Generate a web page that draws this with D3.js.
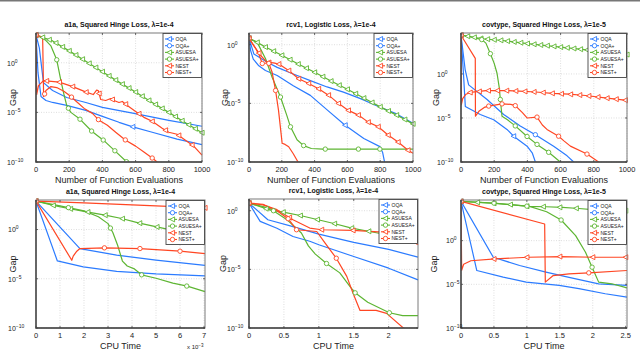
<!DOCTYPE html>
<html>
<head>
<meta charset="utf-8">
<script src="https://cdn.jsdelivr.net/npm/d3@7"></script>
<style>
body { margin: 0; background: #fff; }
text { font-family: "Liberation Sans", Arial, sans-serif; }
</style>
</head>
<body>
<svg width="640" height="350"></svg>
<script>
var methods = ["OQA", "OQA+", "ASUESA", "ASUESA+", "NEST", "NEST+"];
var colors = ["#2b7bff", "#2b7bff", "#5db532", "#5db532", "#ff4623", "#ff4623"];
var shapes = ["tri", "circ", "tri", "circ", "tri", "circ"];

// [x, log10(gap)]
// a1a, function evaluations
var evA1aOQA = [[0,2.8],[12,-1],[30,-3.4],[60,-3.8],[100,-4.0],[185,-4.3],[300,-4.8],[400,-5.4],[500,-6.0],[583,-6.46],[700,-7.0],[850,-7.7],[1000,-8.25]];
var evA1aOQAp = [[0,2.8],[20,1.5],[45,-2.0],[100,-2.8],[185,-3.5],[300,-4.0],[400,-4.5],[590,-5.1],[800,-5.8],[1000,-6.4]];
var evA1aASU = [[0,2.8],[100,2.2],[200,1.2],[300,0.15],[400,-0.9],[500,-1.95],[600,-2.95],[700,-4.0],[800,-5.0],[900,-6.05],[1000,-7.05]];
var evA1aASUp = [[0,2.8],[50,2.4],[90,1.7],[125,0.3],[150,-1.8],[170,-3.3],[185,-4.3],[210,-5.0],[266,-5.7],[336,-6.9],[406,-7.8],[477,-8.9],[547,-10]];
var evA1aNEST = [[0,2.8],[4,-3.2],[15,-2.3],[45,-1.8],[140,-1.95],[221,-2.4],[302,-2.96],[345,-3.2],[365,-2.75],[375,-2.8],[390,-3.7],[420,-3.8],[450,-3.6],[470,-3.8],[500,-4.0],[520,-3.9],[550,-4.3],[600,-4.9],[650,-5.5],[700,-5.9],[760,-6.6],[800,-7.0],[850,-7.2],[900,-7.8],[950,-8.4],[1000,-9.3]];
var evA1aNESTp = [[0,2.8],[40,2.6],[46,-3.4],[60,-2.8],[90,-2.4],[125,-2.5],[170,-2.9],[210,-3.4],[250,-4.0],[290,-4.6],[340,-5.1],[380,-5.8],[430,-6.3],[480,-7.0],[540,-7.8],[600,-8.4],[650,-9.0],[700,-9.6],[730,-10]];

// rcv1, function evaluations
var evRcvOQA = [[0,0.55],[10,-0.5],[26,-1.23],[60,-1.8],[100,-2.2],[172,-2.63],[270,-3.5],[374,-4.32],[480,-5.6],[586,-6.86],[700,-8.0],[798,-8.69],[815,-9.2],[828,-10.1]];
var evRcvOQAp = [[0,0.55],[30,-0.8],[111,-1.5],[172,-1.93],[270,-2.5],[374,-3.06],[476,-3.6],[576,-4.04],[680,-4.6],[778,-5.2],[900,-5.9],[1000,-6.7]];
var evRcvASU = [[0,0.55],[50,0.2],[100,-0.2],[200,-0.9],[300,-1.65],[400,-2.35],[500,-3.1],[600,-3.8],[700,-4.55],[800,-5.3],[900,-6.0],[1000,-6.75]];
var evRcvASUp = [[0,0.55],[50,0.2],[101,-1.2],[141,-2.77],[192,-4.46],[230,-6.0],[253,-7.0],[293,-8.1],[333,-8.6],[380,-8.85],[450,-8.9],[1000,-8.9]];
var evRcvNEST = [[0,0.55],[30,-0.1],[70,-0.9],[110,-1.5],[150,-1.55],[182,-1.65],[242,-2.2],[303,-2.9],[364,-3.3],[424,-3.76],[485,-4.3],[545,-5.0],[606,-5.6],[667,-6.0],[727,-6.6],[788,-7.0],[848,-7.7],[909,-8.3],[970,-9.0],[1000,-9.25]];
var evRcvNESTp = [[0,0.55],[40,-0.3],[60,-0.8],[81,-1.6],[120,-1.55],[140,-2.3],[162,-3.9],[180,-5.6],[195,-7.5],[202,-8.4],[220,-8.5],[242,-8.7],[270,-9.3],[303,-10.1]];

// covtype, function evaluations
var evCovOQA = [[0,4.4],[15,0],[26,-3.7],[116,-4.6],[197,-5.2],[277,-6.3],[317,-7.07],[398,-8.2],[430,-9.0],[448,-10]];
var evCovOQAp = [[0,4.4],[25,0.5],[46,-1.24],[157,-2.9],[257,-4.6],[357,-5.9],[448,-6.9],[558,-8.2],[639,-9.3],[679,-10]];
var evCovASU = [[0,4.4],[50,4.25],[130,4.0],[250,3.8],[400,3.45],[600,3.05],[800,2.65],[960,2.3],[1000,2.2]];
var evCovASUp = [[0,4.4],[60,4.2],[125,3.9],[150,3.5],[177,2.3],[200,1.2],[217,0.08],[230,-1.5],[237,-2.9],[247,-4.8],[280,-5.2],[327,-5.9],[398,-7.1],[458,-8.0],[528,-8.9],[598,-10]];
var evCovNEST = [[0,4.4],[2,-3.5],[10,-2.8],[30,-2.3],[56,-2.1],[150,-1.9],[250,-1.88],[350,-1.95],[450,-2.05],[550,-2.2],[650,-2.3],[750,-2.45],[880,-2.75],[1000,-3.0]];
var evCovNESTp = [[0,4.4],[86,1.77],[87,-4.8],[110,-4.2],[140,-3.8],[167,-3.65],[247,-3.4],[300,-3.45],[327,-3.6],[370,-4.4],[398,-5.0],[458,-4.9],[490,-5.8],[518,-6.3],[588,-7.07],[620,-7.6],[659,-8.2],[759,-9.1],[829,-10]];

// a1a, CPU time (x in units of 1e-3)
var cpA1aOQA = [[0,2.88],[0.89,-3.19],[1.97,-3.8],[3.36,-4.24],[5.0,-4.5],[7.04,-4.71]];
var cpA1aOQAp = [[0,2.88],[1.83,-1.93],[3.36,-2.6],[5.0,-3.1],[7.04,-3.63]];
var cpA1aASU = [[0,2.88],[0.72,2.45],[1.35,2.14],[2.11,1.8],[2.88,1.46],[3.57,1.12],[4.26,0.68],[5.03,0.27],[6.0,-0.24],[7.04,-1.08]];
var cpA1aASUp = [[0,2.88],[1.0,2.4],[2.0,1.9],[2.6,1.3],[3.0,0.6],[3.2,-0.3],[3.4,-1.6],[3.6,-3.2],[3.8,-3.7],[4.1,-4.0],[4.4,-4.6],[5.0,-4.95],[5.7,-5.45],[6.3,-5.75],[7.04,-6.3]];
var cpA1aNEST = [[0,2.88],[2,2.7],[4,2.5],[6,2.3],[7.04,2.2]];
var cpA1aNESTp = [[0,2.88],[1.49,-3.12],[1.55,-2.7],[1.7,-2.2],[1.83,-1.93],[2.85,-1.86],[4.33,-1.93],[6.0,-2.2],[7.04,-2.44]];

// rcv1, CPU time
var cpRcvOQA = [[0,0.65],[0.16,-0.91],[0.4,-1.5],[0.63,-2.2],[0.87,-2.6],[1.0,-2.9],[1.5,-3.9],[2.0,-4.9],[2.42,-5.9]];
var cpRcvOQAp = [[0,0.65],[0.27,-0.77],[0.63,-1.35],[1.0,-2.0],[1.5,-2.7],[2.0,-3.3],[2.42,-3.96]];
var cpRcvASU = [[0,0.65],[0.32,0.03],[0.51,-0.14],[0.75,-0.43],[0.99,-0.77],[1.23,-1.11],[1.47,-1.48],[1.73,-1.77],[1.97,-2.05],[2.42,-2.62]];
var cpRcvASUp = [[0,0.65],[0.3,0.2],[0.55,-0.8],[0.75,-1.9],[0.85,-3.0],[0.95,-3.7],[1.11,-4.5],[1.3,-5.3],[1.45,-6.5],[1.52,-7.0],[1.7,-7.8],[2.01,-8.7],[2.2,-8.95],[2.42,-8.95]];
var cpRcvNEST = [[0,0.65],[0.2,0.5],[0.4,0.09],[0.63,-0.77],[0.87,-1.48],[1.04,-1.62],[1.49,-1.68],[1.97,-1.85],[2.2,-2.05],[2.42,-2.9]];
var cpRcvNESTp = [[0,0.65],[0.2,0.55],[0.4,0.0],[0.56,-0.68],[0.68,-1.62],[0.97,-1.77],[1.09,-2.76],[1.25,-4.05],[1.4,-5.6],[1.49,-7.04],[1.59,-8.5],[1.82,-8.5],[1.97,-8.75],[2.23,-10.1]];

// covtype, CPU time
var cpCovOQA = [[0,4.49],[0.24,-3.42],[0.64,-4.18],[0.99,-4.75],[1.49,-5.13],[1.79,-5.5],[2.19,-6.08],[2.52,-6.46]];
var cpCovOQAp = [[0,4.49],[0.49,-1.9],[0.89,-2.85],[1.29,-3.6],[1.64,-4.2],[2.09,-4.94],[2.52,-5.13]];
var cpCovASU = [[0,4.49],[0.27,4.37],[0.52,4.26],[0.79,4.1],[1.02,3.92],[1.29,3.88],[1.54,3.8],[1.79,3.68],[2.04,3.53],[2.52,3.42]];
var cpCovASUp = [[0,4.49],[0.5,4.3],[1.04,3.92],[1.3,3.3],[1.52,2.36],[1.74,0.57],[1.89,-1.33],[1.99,-3.04],[2.09,-4.75],[2.29,-4.94],[2.52,-5.4]];
var cpCovNEST = [[0,4.49],[0.01,-3.4],[0.04,-2.7],[0.15,-2.3],[0.52,-2.09],[1.02,-1.9],[1.52,-1.82],[2.02,-1.9],[2.52,-1.9]];
var cpCovNESTp = [[0,4.49],[1.27,1.9],[1.28,-4.75],[1.4,-4.0],[1.64,-3.8],[1.94,-3.69],[2.52,-3.42]];

var evTicks = [0, 200, 400, 600, 800, 1000];
var msTicks = [0, 1, 2, 3, 4, 5, 6, 7];
var secTicksRcv = [0, 0.5, 1, 1.5, 2];
var secTicksCov = [0, 0.5, 1, 1.5, 2, 2.5];
var yExps = [-10, -5, 0, 5];

var panels = [
  {title: "a1a, Squared Hinge Loss, \u03bb=1e-4", xlab: "Number of Function Evaluations",
   box: [36, 202, 33, 162], xDom: [0, 1000], yTop: 3, ticks: evTicks, labX: 7, gapX: 15.5,
   series: [evA1aOQA, evA1aOQAp, evA1aASU, evA1aASUp, evA1aNEST, evA1aNESTp],
   marks: [[0,583], [0], 40, [0,125,195,265,335,405,475,545], [0,64,141,221,302,380,460,540,620,700,780,860,940], [0,52,214,376,538,700]]},
  {title: "rcv1, Logistic Loss, \u03bb=1e-4", xlab: "Number of Function Evaluations",
   box: [249, 413, 33, 162], xDom: [0, 1000], yTop: 1, ticks: evTicks, labX: 227, gapX: 227.5,
   series: [evRcvOQA, evRcvOQAp, evRcvASU, evRcvASUp, evRcvNEST, evRcvNESTp],
   marks: [[0,586], [0], 50, [0,192,253,333,465,667,798], 60.6, [0,81,121,162]]},
  {title: "covtype, Squared Hinge Loss, \u03bb=1e-5", xlab: "Number of Function Evaluations",
   box: [461, 627, 33, 162], xDom: [0, 1000], yTop: 4.65, ticks: evTicks, labX: 437, gapX: 438.5,
   series: [evCovOQA, evCovOQAp, evCovASU, evCovASUp, evCovNEST, evCovNESTp],
   marks: [[0,317], [0,448], 40, [0,125,177,237,327,398,458,528], 55, [0,167,247,327,458,588,759]]},
  {title: "a1a, Squared Hinge Loss, \u03bb=1e-4", xlab: "CPU Time",
   box: [36, 205, 200, 328], xDom: [0, 7.04], yTop: 3, ticks: msTicks, labX: 8, gapX: 15.5, exp: true,
   series: [cpA1aOQA, cpA1aOQAp, cpA1aASU, cpA1aASUp, cpA1aNEST, cpA1aNESTp],
   marks: [[0], [0], 0.72, [0,1.35,3.1,4.4,6.28], [0,7.04], [0,2.85,4.33,6.0]]},
  {title: "rcv1, Logistic Loss, \u03bb=1e-4", xlab: "CPU Time",
   box: [249, 418, 199, 328], xDom: [0, 2.42], yTop: 1, ticks: secTicksRcv, labX: 227, gapX: 225.5,
   series: [cpRcvOQA, cpRcvOQAp, cpRcvASU, cpRcvASUp, cpRcvNEST, cpRcvNESTp],
   marks: [[0], [0], 0.245, [0,0.35,1.11,1.52,2.01], [0,0.58,1.04,1.49,1.97], [0,0.56,0.68,1.25]]},
  {title: "covtype, Squared Hinge Loss, \u03bb=1e-5", xlab: "CPU Time",
   box: [461, 627, 200, 328], xDom: [0, 2.52], yTop: 4.65, ticks: secTicksCov, labX: 446, gapX: 436.5,
   series: [cpCovOQA, cpCovOQAp, cpCovASU, cpCovASUp, cpCovNEST, cpCovNESTp],
   marks: [[0], [0], 0.25, [0,0.5,1.0,1.52,1.99], 0.5, [0,1.94]]}
];

var svg = d3.select("svg");
svg.append("rect").attr("x", 0).attr("y", 0).attr("width", 640).attr("height", 1.5).attr("fill", "#777");

function valAt(s, xv) {
  for (var i = 1; i < s.length; i++) {
    if (xv <= s[i][0]) {
      var a = s[i - 1], b = s[i];
      if (b[0] === a[0]) return b[1];
      return a[1] + (b[1] - a[1]) * (xv - a[0]) / (b[0] - a[0]);
    }
  }
  return null;
}

function drawMarker(g, shape, cx, cy, color) {
  if (shape === "circ") {
    g.append("circle").attr("cx", cx).attr("cy", cy).attr("r", 2.2)
      .attr("fill", "#fff").attr("stroke", color).attr("stroke-width", 0.9);
  } else {
    g.append("path")
      .attr("d", "M" + (cx - 2.6) + "," + cy + "L" + (cx + 2.1) + "," + (cy - 2.5) + "L" + (cx + 2.1) + "," + (cy + 2.5) + "Z")
      .attr("fill", "#fff").attr("stroke", color).attr("stroke-width", 0.9);
  }
}

panels.forEach(function(p, pi) {
  var g = svg.append("g");
  var x = d3.scaleLinear().domain(p.xDom).range([p.box[0], p.box[1]]);
  var y = d3.scaleLog().domain([1e-10, Math.pow(10, p.yTop)]).range([p.box[3], p.box[2]]);
  var yv = function(L) { return y(Math.pow(10, L)); };
  var top = pi < 3;

  // grid
  p.ticks.forEach(function(t) {
    g.append("line").attr("x1", x(t)).attr("x2", x(t)).attr("y1", p.box[2]).attr("y2", p.box[3])
      .attr("stroke", "#c8c8c8").attr("stroke-width", 0.6).attr("stroke-dasharray", "1,1.5");
  });
  yExps.filter(function(e) { return e <= p.yTop; }).forEach(function(e) {
    g.append("line").attr("x1", p.box[0]).attr("x2", p.box[1]).attr("y1", yv(e)).attr("y2", yv(e))
      .attr("stroke", "#c8c8c8").attr("stroke-width", 0.6).attr("stroke-dasharray", "1,1.5");
  });

  var clipId = "clip" + pi;
  svg.append("clipPath").attr("id", clipId).append("rect")
    .attr("x", p.box[0]).attr("y", p.box[2] - 3)
    .attr("width", p.box[1] - p.box[0] + 3).attr("height", p.box[3] - p.box[2] + 3);
  var plot = g.append("g").attr("clip-path", "url(#" + clipId + ")");

  var line = d3.line().x(function(d) { return x(d[0]); }).y(function(d) { return yv(d[1]); });
  p.series.forEach(function(s, si) {
    plot.append("path").attr("d", line(s)).attr("fill", "none")
      .attr("stroke", colors[si]).attr("stroke-width", 1.2).attr("stroke-linejoin", "round");
  });
  p.series.forEach(function(s, si) {
    var mk = p.marks[si];
    var xs = Array.isArray(mk) ? mk : d3.range(0, p.xDom[1] + 1e-9, mk);
    xs.forEach(function(xv) {
      var L = valAt(s, xv);
      if (L === null || L < -10.2) return;
      drawMarker(plot, shapes[si], x(xv), yv(L), colors[si]);
    });
  });

  // frame and ticks
  g.append("rect").attr("x", p.box[0]).attr("y", p.box[2])
    .attr("width", p.box[1] - p.box[0]).attr("height", p.box[3] - p.box[2])
    .attr("fill", "none").attr("stroke", "#7a7a7a").attr("stroke-width", 1);
  g.append("path").attr("d", "M" + p.box[0] + "," + p.box[2] + "V" + p.box[3] + "H" + p.box[1])
    .attr("fill", "none").attr("stroke", "#444").attr("stroke-width", 1.4);

  p.ticks.forEach(function(t) {
    g.append("line").attr("x1", x(t)).attr("x2", x(t)).attr("y1", p.box[3]).attr("y2", p.box[3] - 2)
      .attr("stroke", "#444").attr("stroke-width", 0.8);
    g.append("line").attr("x1", x(t)).attr("x2", x(t)).attr("y1", p.box[2]).attr("y2", p.box[2] + 2)
      .attr("stroke", "#444").attr("stroke-width", 0.8);
    g.append("text").attr("x", x(t)).attr("y", p.box[3] + (top ? 10 : 9.5))
      .attr("text-anchor", "middle").attr("font-size", 7.5).attr("fill", "#222").text(t);
  });
  yExps.filter(function(e) { return e <= p.yTop; }).forEach(function(e) {
    g.append("line").attr("x1", p.box[0]).attr("x2", p.box[0] + 2).attr("y1", yv(e)).attr("y2", yv(e))
      .attr("stroke", "#444").attr("stroke-width", 0.8);
    g.append("line").attr("x1", p.box[1]).attr("x2", p.box[1] - 2).attr("y1", yv(e)).attr("y2", yv(e))
      .attr("stroke", "#444").attr("stroke-width", 0.8);
    var t = g.append("text").attr("x", p.labX).attr("y", yv(e) + 2.8)
      .attr("font-size", 7).attr("fill", "#222");
    t.append("tspan").text("10");
    t.append("tspan").attr("dy", -3).attr("font-size", 5).text(e === 0 ? "0" : String(e).replace("-", "\u2212"));
  });

  // labels
  var cx = (p.box[0] + p.box[1]) / 2;
  g.append("text").attr("x", cx).attr("y", p.box[2] - 6).attr("text-anchor", "middle")
    .attr("font-size", 7).attr("font-weight", "bold").attr("fill", "#111").text(p.title);
  g.append("text").attr("x", cx).attr("y", top ? 182.5 : 348.5).attr("text-anchor", "middle")
    .attr("font-size", 9).attr("fill", "#222").text(p.xlab);
  var cy = (p.box[2] + p.box[3]) / 2;
  g.append("text").attr("transform", "translate(" + p.gapX + "," + cy + ") rotate(-90)")
    .attr("text-anchor", "middle").attr("font-size", 9).attr("fill", "#222").text("Gap");
  if (p.exp) {
    var e = g.append("text").attr("x", p.box[1] - 18).attr("y", 349).attr("font-size", 6).attr("fill", "#222");
    e.append("tspan").text("x 10");
    e.append("tspan").attr("dy", -2.5).attr("font-size", 4.5).text("\u22123");
  }

  // legend
  var lw = 38.5, lh = 44;
  var lx = p.box[1] - lw - 0.5, ly = p.box[2] + 0.5;
  var lg = g.append("g");
  lg.append("rect").attr("x", lx).attr("y", ly).attr("width", lw).attr("height", lh)
    .attr("fill", "#fff").attr("stroke", "#444").attr("stroke-width", 0.9);
  methods.forEach(function(m, i) {
    var ry = ly + 5.5 + i * 6.7;
    lg.append("line").attr("x1", lx + 2).attr("x2", lx + 11).attr("y1", ry).attr("y2", ry)
      .attr("stroke", colors[i]).attr("stroke-width", 1.1);
    drawMarker(lg, shapes[i], lx + 6.5, ry, colors[i]);
    lg.append("text").attr("x", lx + 12.5).attr("y", ry + 1.8).attr("font-size", 5)
      .attr("fill", "#222").text(m);
  });
});
</script>
</body>
</html>
